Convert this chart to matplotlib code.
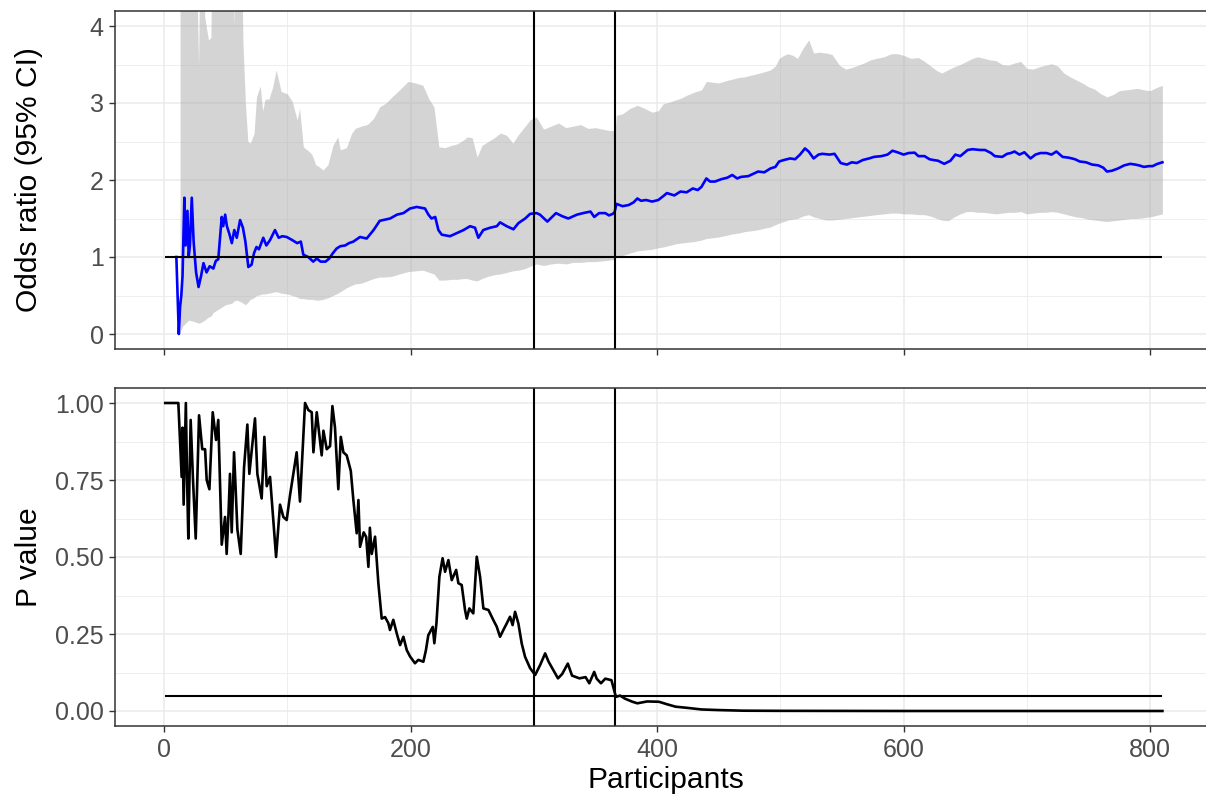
import matplotlib
matplotlib.use("Agg")
import matplotlib.pyplot as plt
from matplotlib.ticker import MultipleLocator

plt.rcParams['font.family'] = ['Liberation Sans', 'DejaVu Sans']

# cumulative odds ratio (blue line)
or_x = [10, 12, 13, 14, 15, 16.5, 17.5, 19, 20, 21, 22.5, 24, 26, 28, 30, 32, 34.5, 37, 40, 42,
        44, 46.8, 48, 49.6, 51, 53, 55, 57, 59, 61.7, 64, 66, 68.4, 71, 73, 75, 77, 80.5, 83, 86,
        90, 93, 96, 99.5, 104, 108, 111, 113, 117, 121, 124, 127, 131, 134, 137, 140, 143, 147, 150, 153.6,
        159, 164.4, 170, 175, 183.4, 189, 194.2, 199.6, 205, 211.7, 214.5, 217, 220, 222.6, 225.3, 232, 237.4, 243, 248.3, 252.3,
        255, 259, 264.5, 270, 272.6, 278, 283.5, 287.5, 293, 297, 302.3, 305, 311, 318, 323, 328, 335, 340, 346, 349,
        353, 358, 361, 364, 365.5, 367, 372, 377, 381, 384, 387, 391, 396, 401, 405, 408, 414, 419, 424, 429,
        433, 436, 440, 443, 447, 452, 457, 461, 465, 468, 474, 478, 482, 487, 492, 496, 499, 503, 508, 512,
        516, 520, 523, 527, 531, 534, 540, 544, 549, 554, 558, 562, 567, 572, 576, 582, 587, 591, 595, 600,
        604, 609, 612, 617, 621, 624, 628, 633, 638, 642, 646, 652, 656, 662, 666, 671, 674, 680, 684, 687,
        690, 694, 698, 703, 707, 711, 716, 720, 724, 729, 734, 739, 743, 748, 753, 758, 762, 765, 769, 774,
        779, 784, 788, 791, 795, 799, 802, 806, 810]
or_y = [1.00, 0.00, 0.35, 0.50, 0.75, 1.77, 1.15, 1.60, 1.00, 1.15, 1.77, 1.20, 0.80, 0.61, 0.75, 0.92, 0.80, 0.88, 0.85, 0.95,
        0.97, 1.52, 1.40, 1.55, 1.40, 1.30, 1.18, 1.35, 1.25, 1.48, 1.38, 1.20, 0.87, 0.90, 1.05, 1.13, 1.10, 1.25, 1.15, 1.22,
        1.35, 1.25, 1.27, 1.26, 1.22, 1.18, 1.20, 1.03, 1.00, 0.94, 0.98, 0.94, 0.94, 0.98, 1.05, 1.11, 1.14, 1.15, 1.18, 1.20,
        1.26, 1.24, 1.35, 1.47, 1.50, 1.55, 1.57, 1.63, 1.65, 1.63, 1.55, 1.50, 1.52, 1.35, 1.29, 1.27, 1.31, 1.35, 1.40, 1.38,
        1.25, 1.35, 1.38, 1.40, 1.45, 1.40, 1.36, 1.44, 1.50, 1.56, 1.57, 1.55, 1.46, 1.57, 1.53, 1.50, 1.55, 1.57, 1.59, 1.52,
        1.57, 1.57, 1.54, 1.56, 1.58, 1.69, 1.66, 1.675, 1.71, 1.76, 1.73, 1.74, 1.72, 1.74, 1.79, 1.83, 1.80, 1.85, 1.84, 1.89,
        1.87, 1.91, 2.02, 1.98, 1.98, 2.01, 2.03, 2.065, 2.02, 2.04, 2.05, 2.08, 2.11, 2.10, 2.15, 2.17, 2.24, 2.26, 2.28, 2.27,
        2.33, 2.41, 2.37, 2.28, 2.33, 2.34, 2.33, 2.34, 2.22, 2.20, 2.23, 2.22, 2.26, 2.28, 2.30, 2.31, 2.33, 2.38, 2.36, 2.33,
        2.35, 2.355, 2.31, 2.31, 2.27, 2.26, 2.25, 2.21, 2.25, 2.33, 2.31, 2.39, 2.40, 2.39, 2.39, 2.35, 2.31, 2.30, 2.34, 2.35,
        2.37, 2.33, 2.36, 2.28, 2.33, 2.35, 2.35, 2.33, 2.37, 2.30, 2.29, 2.27, 2.24, 2.23, 2.20, 2.19, 2.16, 2.11, 2.12, 2.15,
        2.19, 2.21, 2.20, 2.19, 2.17, 2.18, 2.18, 2.21, 2.23]

# 95% CI ribbon
ci_x = [13, 15, 20, 25, 28, 30, 33, 36, 38, 40, 45, 50, 55, 57, 59, 62, 64, 66, 68, 70,
        73, 75, 78, 80, 82, 85, 88, 91, 95, 100, 104, 108, 110, 113, 117, 120, 123, 126, 129, 133,
        137, 141, 143, 148, 152, 155, 160, 165, 170, 175, 180, 185, 191, 198, 204, 210, 215, 219, 223, 228,
        233, 238, 243, 246, 250, 254, 258, 263, 268, 273, 278, 283, 288, 293, 297, 302, 308, 314, 320, 326,
        332, 338, 344, 350, 356, 362, 366, 367, 372, 378, 384, 390, 396, 401, 405, 410, 415, 419, 424, 430,
        436, 440, 445, 450, 456, 461, 466, 471, 476, 481, 486, 492, 496, 499, 503, 506, 510, 514, 518, 523,
        527, 532, 537, 542, 548, 553, 558, 563, 568, 573, 578, 584, 590, 595, 600, 606, 612, 617, 622, 627,
        631, 636, 641, 646, 651, 656, 660, 665, 670, 675, 680, 685, 690, 695, 700, 705, 710, 715, 720, 725,
        730, 735, 740, 745, 750, 755, 760, 765, 770, 775, 780, 785, 790, 795, 800, 805, 810]
ci_lo = [0.02, 0.10, 0.18, 0.16, 0.14, 0.15, 0.18, 0.22, 0.23, 0.28, 0.33, 0.38, 0.40, 0.43, 0.44, 0.42, 0.40, 0.38, 0.41, 0.45,
         0.47, 0.50, 0.51, 0.52, 0.52, 0.53, 0.54, 0.55, 0.53, 0.52, 0.50, 0.48, 0.46, 0.46, 0.45, 0.45, 0.44, 0.44, 0.45, 0.47,
         0.50, 0.53, 0.55, 0.60, 0.63, 0.65, 0.66, 0.69, 0.72, 0.74, 0.74, 0.75, 0.78, 0.81, 0.82, 0.83, 0.80, 0.78, 0.70, 0.70,
         0.71, 0.71, 0.72, 0.72, 0.70, 0.69, 0.72, 0.75, 0.77, 0.78, 0.80, 0.82, 0.83, 0.85, 0.88, 0.91, 0.89, 0.91, 0.92, 0.91,
         0.93, 0.93, 0.94, 0.94, 0.95, 0.96, 0.97, 1.00, 1.02, 1.05, 1.08, 1.09, 1.10, 1.12, 1.13, 1.15, 1.17, 1.18, 1.19, 1.20,
         1.22, 1.24, 1.25, 1.26, 1.28, 1.30, 1.31, 1.33, 1.34, 1.35, 1.37, 1.39, 1.42, 1.44, 1.46, 1.48, 1.49, 1.50, 1.53, 1.55,
         1.52, 1.50, 1.48, 1.48, 1.49, 1.50, 1.51, 1.52, 1.53, 1.54, 1.55, 1.56, 1.57, 1.57, 1.56, 1.56, 1.55, 1.55, 1.53, 1.50,
         1.48, 1.47, 1.52, 1.56, 1.59, 1.59, 1.58, 1.58, 1.57, 1.56, 1.57, 1.58, 1.58, 1.59, 1.56, 1.57, 1.58, 1.58, 1.59, 1.58,
         1.56, 1.54, 1.52, 1.51, 1.49, 1.48, 1.47, 1.46, 1.47, 1.48, 1.49, 1.50, 1.50, 1.51, 1.52, 1.54, 1.56]
ci_hi = [6.0, 6.0, 6.0, 6.0, 3.49, 6.0, 4.12, 3.82, 3.85, 6.0, 6.0, 6.0, 6.0, 4.0, 6.0, 6.0, 3.80, 3.00, 2.50, 2.48,
         2.60, 3.08, 3.22, 2.90, 3.05, 3.05, 3.20, 3.43, 3.15, 3.12, 3.02, 2.78, 2.93, 2.43, 2.38, 2.33, 2.20, 2.17, 2.13, 2.20,
         2.45, 2.56, 2.39, 2.42, 2.60, 2.67, 2.70, 2.72, 2.80, 2.95, 3.00, 3.08, 3.17, 3.28, 3.26, 3.23, 3.05, 2.95, 2.43, 2.42,
         2.45, 2.47, 2.52, 2.56, 2.55, 2.30, 2.45, 2.50, 2.55, 2.61, 2.58, 2.48, 2.60, 2.70, 2.78, 2.82, 2.66, 2.70, 2.74, 2.68,
         2.70, 2.72, 2.67, 2.68, 2.66, 2.64, 2.65, 2.84, 2.86, 2.93, 2.97, 2.93, 2.88, 2.90, 2.99, 3.01, 3.04, 3.06, 3.10, 3.14,
         3.17, 3.28, 3.27, 3.26, 3.29, 3.31, 3.33, 3.34, 3.36, 3.38, 3.40, 3.43, 3.48, 3.58, 3.62, 3.64, 3.62, 3.58, 3.70, 3.82,
         3.65, 3.66, 3.65, 3.63, 3.49, 3.44, 3.46, 3.49, 3.52, 3.56, 3.58, 3.60, 3.64, 3.64, 3.62, 3.58, 3.59, 3.54, 3.48, 3.42,
         3.39, 3.43, 3.47, 3.50, 3.54, 3.58, 3.60, 3.58, 3.56, 3.55, 3.50, 3.49, 3.52, 3.54, 3.45, 3.44, 3.47, 3.49, 3.51, 3.48,
         3.39, 3.34, 3.30, 3.26, 3.21, 3.18, 3.12, 3.08, 3.11, 3.16, 3.17, 3.18, 3.19, 3.17, 3.16, 3.20, 3.23]

# cumulative p value
p_x = [1, 11.6, 14.3, 15, 15.9, 17.7, 18.7, 19.7, 21.6, 23.5, 25.7, 28.4, 31, 33.3, 34.6, 36.8, 39.5, 42.2, 44, 46.8,
       49.5, 50.8, 52.2, 53.5, 54.9, 56.8, 59.5, 62.2, 64.9, 67.6, 69.2, 73.8, 75.7, 79.2, 81.4, 83.3, 86, 90.9, 94.1, 96.8,
       99.5, 102.2, 107.6, 110.3, 114.4, 117.1, 119.8, 121.2, 123.9, 127.9, 129.3, 132, 134.7, 136.6, 138.7, 141.4, 143.4, 145.5, 148.2, 151.5,
       153.6, 156.3, 157.7, 159, 162, 164, 165.8, 167, 168.5, 171.2, 173.9, 176.6, 179.3, 182, 183.3, 186, 188.8, 191.5, 194.2, 196.9,
       199.6, 203.6, 206.3, 210.4, 212.5, 214.4, 218, 219.3, 221, 223.4, 226, 228, 230.7, 233.4, 237, 238.8, 241.5, 244.2, 245.6, 247.7,
       250.9, 253.7, 256.4, 259.1, 263.2, 267.2, 269.9, 272.6, 275.3, 278, 280.7, 282.8, 284.8, 287.5, 290.2, 292.9, 297, 301.1, 305.1, 309.2,
       312, 319.6, 323, 327.6, 331, 337, 342, 345, 349, 351, 354.5, 358, 363, 366.6, 370, 374, 380, 384, 392, 401.5,
       408, 415, 425, 436, 450, 470, 500, 600, 810]
p_y = [1.0, 1.0, 0.76, 0.92, 0.67, 1.0, 0.75, 0.56, 0.945, 0.75, 0.56, 0.96, 0.85, 0.85, 0.75, 0.72, 0.97, 0.88, 0.945, 0.54,
       0.63, 0.51, 0.63, 0.77, 0.58, 0.84, 0.59, 0.51, 0.79, 0.93, 0.77, 0.95, 0.77, 0.69, 0.89, 0.73, 0.76, 0.50, 0.67, 0.63,
       0.62, 0.70, 0.84, 0.68, 1.0, 0.977, 0.97, 0.84, 0.97, 0.83, 0.91, 0.85, 0.86, 0.99, 0.92, 0.72, 0.89, 0.84, 0.83, 0.78,
       0.685, 0.577, 0.685, 0.533, 0.58, 0.565, 0.468, 0.595, 0.51, 0.566, 0.414, 0.30, 0.305, 0.285, 0.263, 0.296, 0.252, 0.214, 0.241, 0.198,
       0.177, 0.155, 0.166, 0.16, 0.198, 0.246, 0.273, 0.22, 0.285, 0.436, 0.496, 0.452, 0.49, 0.425, 0.458, 0.415, 0.409, 0.328, 0.30, 0.333,
       0.317, 0.501, 0.436, 0.333, 0.328, 0.295, 0.274, 0.241, 0.263, 0.284, 0.306, 0.279, 0.322, 0.284, 0.219, 0.176, 0.139, 0.117, 0.149, 0.187,
       0.16, 0.106, 0.12, 0.154, 0.115, 0.106, 0.11, 0.09, 0.127, 0.105, 0.09, 0.105, 0.100, 0.046, 0.05, 0.04, 0.03, 0.025, 0.031, 0.030,
       0.022, 0.014, 0.01, 0.005, 0.003, 0.001, 0.0005, 0.0, 0.0]

looks = [300, 366]          # interim analyses
n_first, n_last = 1, 810
or_null = 1
alpha = 0.05

fig = plt.figure(figsize=(12.06, 8), dpi=100)
ax1 = fig.add_axes([0.0957, 0.56325, 0.9095, 0.4235])
ax2 = fig.add_axes([0.0957, 0.0920, 0.9095, 0.4235])

for ax in (ax1, ax2):
    ax.set_xlim(-39.45, 850.45)
    ax.xaxis.set_major_locator(MultipleLocator(200))
    ax.xaxis.set_minor_locator(MultipleLocator(100))
    ax.set_axisbelow(True)
    ax.grid(which='major', color='#EBEBEB', lw=1.1)
    ax.grid(which='minor', color='#EBEBEB', lw=0.6)
    ax.tick_params(which='major', length=4.5, width=1.0, color='#333333',
                   labelsize=18, labelcolor='#4D4D4D', pad=4)
    ax.tick_params(which='minor', length=0)
    for s in ax.spines.values():
        s.set_color('#333333')
        s.set_linewidth(1.1)

# top: odds ratio
ax1.fill_between(ci_x, ci_lo, ci_hi, color='#ABABAB', alpha=0.5, lw=0)
ax1.plot(or_x, or_y, color='#0000FF', lw=1.9)
ax1.hlines(or_null, n_first, n_last, color='black', lw=1.5)
for v in looks:
    ax1.axvline(v, color='black', lw=1.5)
ax1.set_ylim(-0.2, 4.2)
ax1.yaxis.set_major_locator(MultipleLocator(1))
ax1.yaxis.set_minor_locator(MultipleLocator(0.5))
ax1.tick_params(labelbottom=False)
ax1.set_ylabel('Odds ratio (95% CI)', fontsize=21.6)
ax1.yaxis.set_label_coords(-0.066, 0.5)

# bottom: p value
ax2.plot(p_x, p_y, color='black', lw=1.9)
ax2.hlines(alpha, n_first, n_last, color='black', lw=1.5)
for v in looks:
    ax2.axvline(v, color='black', lw=1.5)
ax2.set_ylim(-0.05, 1.05)
ax2.yaxis.set_major_locator(MultipleLocator(0.25))
ax2.yaxis.set_minor_locator(MultipleLocator(0.125))
ax2.set_yticks([0, 0.25, 0.5, 0.75, 1.0])
ax2.set_yticklabels(['0.00', '0.25', '0.50', '0.75', '1.00'])
ax2.set_ylabel('P value', fontsize=21.6)
ax2.yaxis.set_label_coords(-0.066, 0.5)
ax2.set_xlabel('Participants', fontsize=21.6)
ax2.xaxis.set_label_coords(0.502, -0.118)

fig.savefig('out.png', dpi=100)
